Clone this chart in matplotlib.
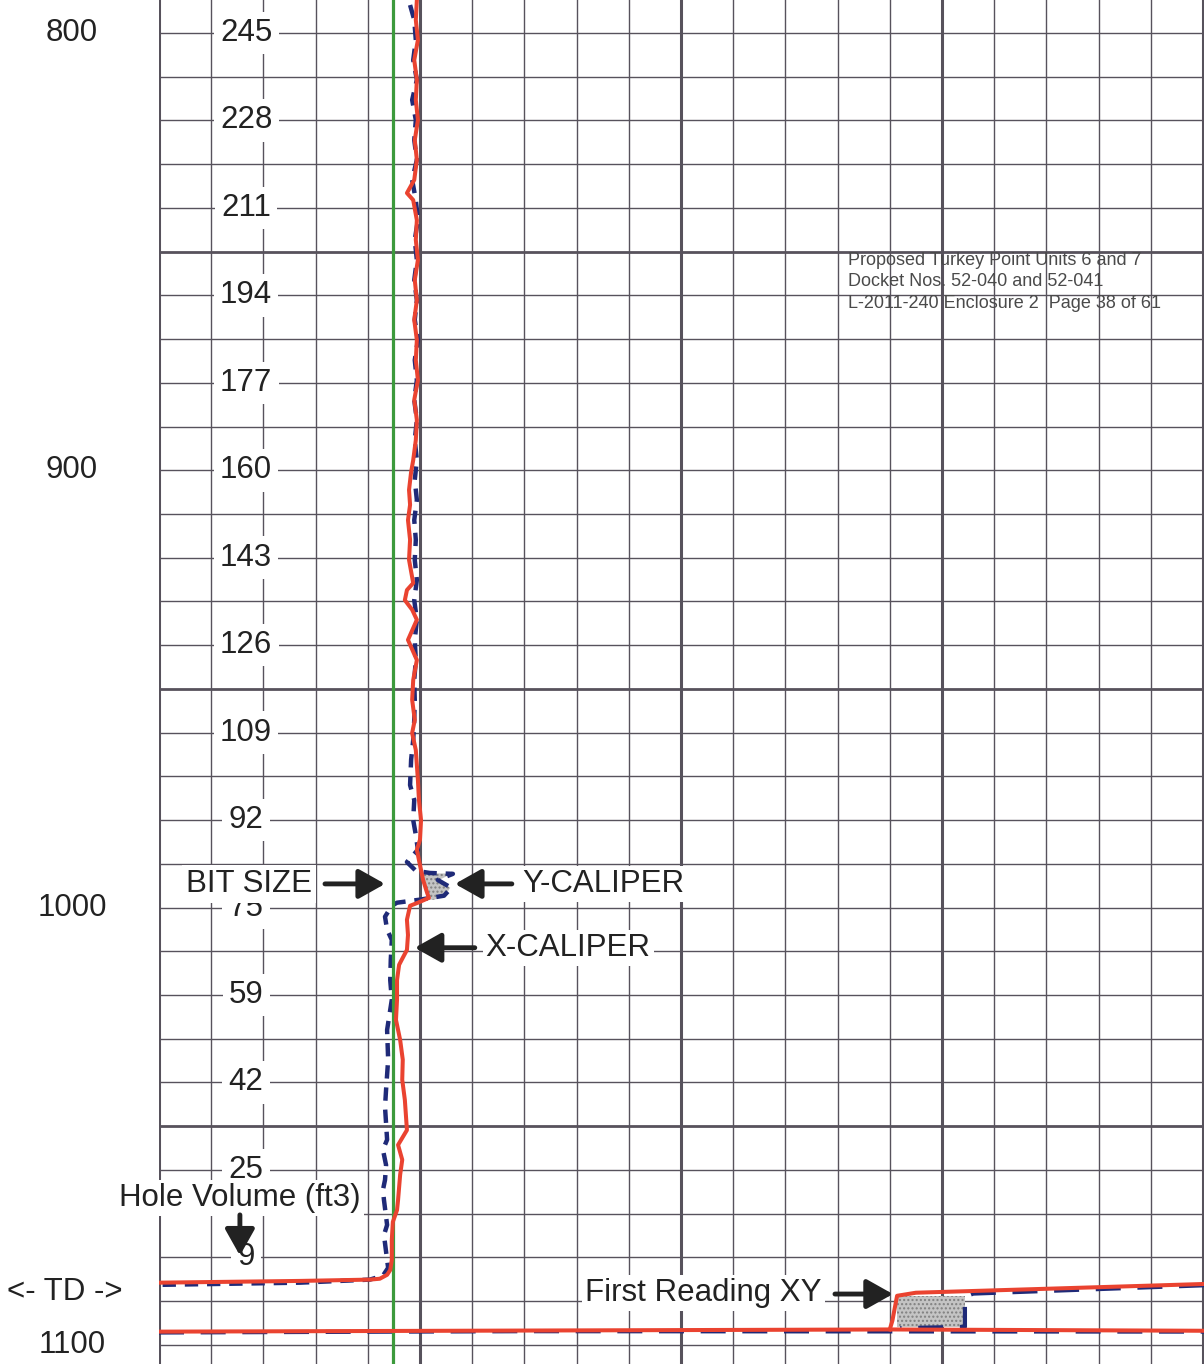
"""
caliper_log.py - X/Y caliper track with bit size and hole volume ticks.
"""

import matplotlib
matplotlib.use("Agg")
import matplotlib.pyplot as plt
import matplotlib.transforms as mtransforms

plt.rcParams["font.family"] = ["Liberation Sans", "DejaVu Sans"]
plt.rcParams["hatch.linewidth"] = 1.0

# depth track (ft) and caliper scale (in)
depth_labels = [800, 900, 1000, 1100]
td_depth = 1087.9
bit_size = 12.48

# hole volume (ft3) tick every 20 ft
volume_depths = [800, 820, 840, 860, 880, 900, 920, 940, 960, 980, 1000, 1020, 1040, 1060, 1080]
volume_values = ["245", "228", "211", "194", "177", "160", "143", "126", "109", "92",
                 "75", "59", "42", "25", "9"]

# X-caliper (red)
x_depth = [792.5, 797.0, 801.6, 806.2, 810.7, 815.3, 819.9, 824.5, 829.0, 833.6,
           836.6, 838.2, 842.8, 847.3, 851.9, 856.5, 861.1, 865.6, 870.2, 874.8,
           879.4, 883.9, 888.5, 893.1, 897.7, 900.4, 904.5, 907.9, 911.4, 915.9,
           920.5, 925.8, 927.4, 929.7, 931.9, 934.2, 938.8, 943.4, 948.0, 952.5,
           957.1, 960.1, 964.0, 970.8, 975.4, 980.0, 984.5, 986.8, 990.3, 993.7,
           996.4, 997.8, 998.9, 999.6, 1002.8, 1006.3, 1009.7, 1011.5, 1013.1, 1016.6,
           1021.1, 1025.7, 1030.3, 1034.8, 1039.4, 1044.0, 1050.9, 1054.3, 1057.7, 1061.1,
           1066.9, 1069.2, 1071.9, 1076.0, 1080.6, 1082.9, 1084.0, 1084.9, 1085.1, 1085.4,
           1085.8]
x_cal = [12.94, 12.92, 12.96, 12.89, 12.94, 12.92, 12.96, 12.90, 12.94, 12.89,
         12.75, 12.87, 12.94, 12.92, 12.96, 12.90, 12.94, 12.89, 12.94, 12.92,
         12.96, 12.89, 12.94, 12.92, 12.87, 12.83, 12.79, 12.81, 12.77, 12.81,
         12.79, 12.87, 12.75, 12.71, 12.85, 12.94, 12.77, 12.94, 12.87, 12.85,
         12.90, 12.85, 12.92, 12.96, 12.98, 13.02, 13.00, 12.94, 13.00, 13.06,
         13.13, 13.17, 12.96, 12.81, 12.75, 12.77, 12.75, 12.67, 12.60, 12.56,
         12.56, 12.54, 12.62, 12.67, 12.66, 12.71, 12.75, 12.58, 12.66, 12.62,
         12.58, 12.56, 12.48, 12.46, 12.46, 12.43, 12.37, 12.23, 12.04, 10.70,
         8.0]

# Y-caliper (blue dashed)
y_depth = [793.6, 797.0, 801.6, 806.2, 810.7, 815.3, 819.9, 824.5, 829.0, 833.6,
           838.2, 842.8, 847.3, 851.9, 856.5, 861.1, 865.6, 870.2, 874.8, 879.4,
           883.9, 888.5, 893.1, 897.7, 902.2, 906.8, 911.4, 915.9, 920.5, 925.1,
           929.7, 934.2, 938.8, 943.4, 948.0, 952.5, 957.1, 961.7, 966.2, 972.0,
           975.4, 980.0, 983.4, 986.8, 989.6, 991.6, 992.1, 992.3, 993.7, 995.5,
           997.3, 998.2, 998.9, 999.6, 1002.1, 1005.1, 1007.4, 1012.0, 1016.6, 1021.1,
           1028.0, 1034.8, 1041.7, 1045.6, 1053.1, 1055.4, 1058.9, 1062.3, 1064.6, 1066.9,
           1072.6, 1074.9, 1080.6, 1082.4, 1084.2, 1085.1, 1085.8, 1086.3]
y_cal = [12.81, 12.89, 12.92, 12.87, 12.94, 12.85, 12.92, 12.89, 12.94, 12.85,
         12.92, 12.96, 12.90, 12.94, 12.89, 12.94, 12.90, 12.96, 12.90, 12.94,
         12.89, 12.94, 12.90, 12.94, 12.90, 12.94, 12.89, 12.92, 12.90, 12.94,
         12.89, 12.94, 12.90, 12.92, 12.89, 12.90, 12.89, 12.87, 12.83, 12.81,
         12.89, 12.87, 12.92, 12.96, 12.75, 12.92, 13.19, 13.63, 13.34, 13.60,
         13.46, 13.00, 12.56, 12.46, 12.33, 12.37, 12.46, 12.44, 12.43, 12.46,
         12.37, 12.39, 12.35, 12.33, 12.37, 12.29, 12.35, 12.33, 12.29, 12.31,
         12.37, 12.31, 12.37, 12.39, 12.29, 12.04, 10.70, 8.0]

# washout between the two arms
wash_depth = [992.2, 993.7, 995.5, 997.3, 998.2]
wash_x = [13.04, 13.06, 13.10, 13.15, 13.17]
wash_y = [13.63, 13.36, 13.58, 13.48, 13.28]

# first reading at the bottom of the run
red_bottom_cal = [8.0, 22.0, 28.02]
red_bottom_depth = [1097.0, 1096.5, 1096.8]
red_first_cal = [22.0, 22.05, 22.14, 22.5, 28.02]
red_first_depth = [1096.5, 1094.5, 1088.8, 1088.1, 1086.1]
blue_bottom_cal = [8.0, 15.0, 28.02]
blue_bottom_depth = [1097.2, 1096.9, 1097.0]
blue_first_cal = [28.02, 23.6, 23.44, 23.44, 22.2]
blue_first_depth = [1086.4, 1088.3, 1089.0, 1095.9, 1096.2]
first_box_depth = [1088.8, 1096.0]
first_box_cal = [22.14, 23.44]

GRID = "#57525c"
RED = "#ea4330"
BLUE = "#1f2a78"
GREEN = "#3c9a3c"
INK = "#222222"
FS = 22.5

fig = plt.figure(figsize=(12.04, 13.64), dpi=100)
ax = fig.add_axes([159 / 1204, 0, 1045 / 1204, 1])
ax.set_xlim(8, 28.02)
ax.set_ylim(1104.4, 792.45)
ax.axis("off")

# chart paper grid
for c in range(8, 29):
    ax.axvline(c, color=GRID, lw=2.2 if (c - 8) % 5 == 0 else 1.0, zorder=1)
for d in range(800, 1101, 10):
    ax.axhline(d, color=GRID, lw=2.0 if d % 100 == 50 else 1.0, zorder=1)

ax.axvline(bit_size, color=GREEN, lw=2.3, zorder=3.5)

# curves
ax.fill_betweenx(wash_depth, wash_x, wash_y, facecolor="#c4c4c4", edgecolor="#808080",
                 hatch="....", lw=0, zorder=2)
ax.fill_betweenx(first_box_depth, first_box_cal[0], first_box_cal[1], facecolor="#c4c4c4",
                 edgecolor="#808080", hatch="....", lw=0, zorder=2)

dash = (0, (3, 2))
ax.plot(y_cal, y_depth, color=BLUE, lw=3.2, ls=dash, zorder=3)
ax.plot(blue_bottom_cal, blue_bottom_depth, color=BLUE, lw=3.0, ls=(0, (6, 4)), zorder=3)
ax.plot(blue_first_cal, blue_first_depth, color=BLUE, lw=3.0, ls=(0, (6, 4)), zorder=3)

ax.plot(x_cal, x_depth, color=RED, lw=2.9, zorder=4)
ax.plot(red_bottom_cal, red_bottom_depth, color=RED, lw=2.9, zorder=4)
ax.plot(red_first_cal, red_first_depth, color=RED, lw=2.9, zorder=4)

# depth labels left of the track
trans = mtransforms.blended_transform_factory(fig.transFigure, ax.transData)
for d in depth_labels:
    ax.text(72 / 1204, d, str(d), transform=trans, ha="center", va="center",
            fontsize=FS, color=INK)
ax.text(65 / 1204, td_depth, "<- TD ->", transform=trans, ha="center", va="center",
        fontsize=FS, color=INK)

box = dict(boxstyle="square,pad=0.2", fc="white", ec="none")
for d, v in zip(volume_depths, volume_values):
    ax.text(9.67, d, v, ha="center", va="center", fontsize=FS, color=INK, bbox=box, zorder=5)

# annotations
arrow = dict(arrowstyle="-|>,head_length=0.8,head_width=0.45", lw=3.5, color=INK,
             mutation_scale=20, shrinkA=0, shrinkB=0)
tight = dict(boxstyle="square,pad=0.1", fc="white", ec="none")

ax.text(10.93, 994.6, "BIT SIZE", ha="right", va="center", fontsize=FS, color=INK,
        bbox=dict(boxstyle="square,pad=0.12", fc="white", ec="none"), zorder=6)
ax.annotate("", xy=(12.33, 994.6), xytext=(11.18, 994.6), arrowprops=arrow, zorder=6)

ax.text(14.95, 994.6, "Y-CALIPER", ha="left", va="center", fontsize=FS, color=INK,
        bbox=tight, zorder=6)
ax.annotate("", xy=(13.67, 994.6), xytext=(14.76, 994.6), arrowprops=arrow, zorder=6)

ax.text(14.26, 1009.2, "X-CALIPER", ha="left", va="center", fontsize=FS, color=INK,
        bbox=tight, zorder=6)
ax.annotate("", xy=(12.90, 1009.2), xytext=(14.05, 1009.2), arrowprops=arrow, zorder=6)

ax.text(9.55, 1066.4, "Hole Volume (ft3)", ha="center", va="center", fontsize=FS,
        color=INK, bbox=tight, zorder=6)
ax.annotate("", xy=(9.55, 1079.6), xytext=(9.55, 1070.3), arrowprops=arrow, zorder=6)

ax.text(20.70, 1088.2, "First Reading XY", ha="right", va="center", fontsize=FS,
        color=INK, bbox=tight, zorder=6)
ax.annotate("", xy=(22.06, 1088.4), xytext=(20.95, 1088.4), arrowprops=arrow, zorder=6)

ax.text(21.2, 856.9,
        "Proposed Turkey Point Units 6 and 7\nDocket Nos. 52-040 and 52-041\n"
        "L-2011-240 Enclosure 2  Page 38 of 61",
        ha="left", va="center", fontsize=13, color="#4a4a4a", linespacing=1.35, zorder=6)

fig.savefig("out.png", dpi=100)
